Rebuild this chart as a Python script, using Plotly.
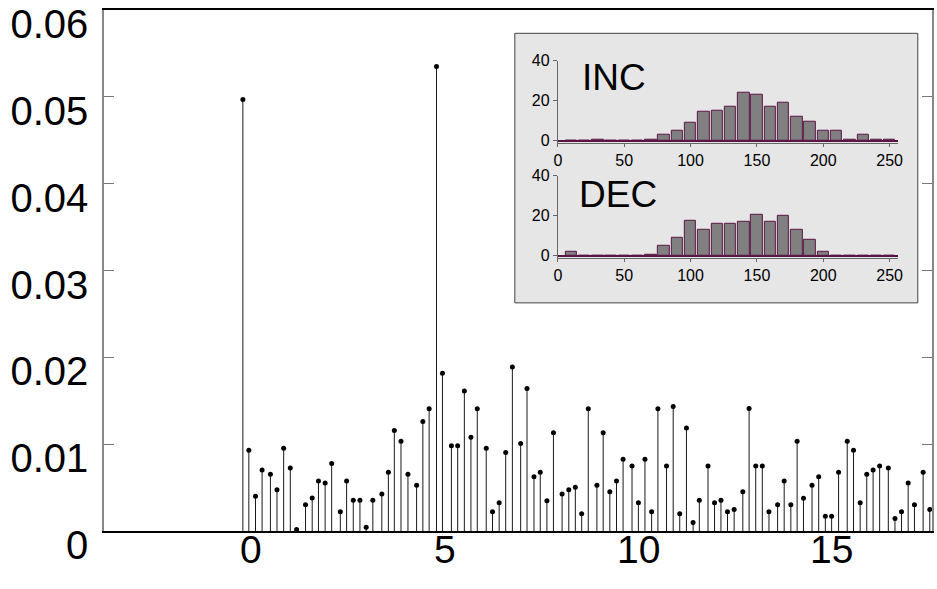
import plotly.graph_objects as go

# ---- main stem data ----
stem_x = [0.000, 0.154, 0.326, 0.496, 0.711, 0.881, 1.053, 1.225, 1.387, 1.618,
          1.790, 1.952, 2.124, 2.293, 2.517, 2.679, 2.851, 3.023, 3.184, 3.356,
          3.588, 3.757, 3.911, 4.083, 4.263, 4.486, 4.648, 4.810, 5.000, 5.154,
          5.385, 5.547, 5.719, 5.889, 6.053, 6.284, 6.446, 6.618, 6.787, 6.959,
          7.173, 7.337, 7.517, 7.679, 7.851, 8.020, 8.243, 8.416, 8.585, 8.749,
          8.919, 9.142, 9.304, 9.476, 9.648, 9.818, 10.049, 10.213, 10.383, 10.555,
          10.717, 10.940, 11.112, 11.281, 11.454, 11.626, 11.787, 12.011, 12.180, 12.345,
          12.514, 12.686, 12.910, 13.072, 13.243, 13.413, 13.585, 13.808, 13.978, 14.150,
          14.312, 14.476, 14.697, 14.869, 15.041, 15.203, 15.383, 15.606, 15.768, 15.940,
          16.110, 16.274, 16.443, 16.667, 16.839, 17.008, 17.180, 17.342, 17.566, 17.738]
stem_y = [0.0497, 0.00931, 0.00399, 0.00703, 0.00653, 0.00476, 0.00954, 0.00726, 0.00017, 0.00303,
          0.00380, 0.00576, 0.00553, 0.00776, 0.00222, 0.00576, 0.00353, 0.00353, 0.00044, 0.00353,
          0.00426, 0.00676, 0.01158, 0.01035, 0.00653, 0.00526, 0.01262, 0.01408, 0.0535, 0.01817,
          0.00981, 0.00981, 0.01613, 0.01081, 0.01408, 0.00954, 0.00222, 0.00326, 0.00904, 0.01890,
          0.01008, 0.01640, 0.00626, 0.00676, 0.00349, 0.01131, 0.00426, 0.00476, 0.00503, 0.00198,
          0.01408, 0.00526, 0.01131, 0.00453, 0.00576, 0.00827, 0.00750, 0.00326, 0.00827, 0.00222,
          0.01408, 0.00750, 0.01435, 0.00198, 0.01185, 0.00098, 0.00353, 0.00750, 0.00326, 0.00353,
          0.00222, 0.00249, 0.00453, 0.01412, 0.00750, 0.00750, 0.00222, 0.00303, 0.00576, 0.00303,
          0.01035, 0.00376, 0.00526, 0.00626, 0.00171, 0.00171, 0.00676, 0.01035, 0.00931, 0.00326,
          0.00653, 0.00703, 0.00750, 0.00726, 0.00145, 0.00222, 0.00553, 0.00303, 0.00676, 0.00249]

main_xticks = [0, 5, 10, 15]
main_xticktext = ["0", "5", "10", "15"]
main_yticks = [0, 0.01, 0.02, 0.03, 0.04, 0.05, 0.06]
main_yticktext = ["0", "0.01", "0.02", "0.03", "0.04", "0.05", "0.06"]

# ---- inset histograms ----
hist_bins = [10, 20, 30, 40, 50, 60, 70, 80, 90, 100, 110, 120, 130, 140, 150, 160, 170,
             180, 190, 200, 210, 220, 230, 240, 250]
inc_counts = [0, 0, 0.7, 0, 0, 0, 0.7, 2.8, 5.2, 8.8, 14.3, 15.0, 17.2, 23.8, 23.2, 17.2, 19.2,
              11.8, 9.7, 5.2, 5.2, 0.7, 2.8, 0.7, 0.7]
dec_counts = [1.8, 0, 0, 0, 0, 0, 0.7, 5.0, 8.8, 17.7, 13.2, 16.2, 16.2, 16.8, 20.7, 16.8, 20.0,
              13.2, 8.0, 1.8, 0, 0, 0, 0, 0]
hist_xticks = [0, 50, 100, 150, 200, 250]
hist_yticks = [0, 20, 40]
inset_labels = ["INC", "DEC"]

W, H = 937, 589
L, R, T, B = 104, 937, 10, 530.7


def px(xp):
    return (xp - L) / (R - L)


def py(yp):
    return (B - yp) / (B - T)


FONT = "Liberation Sans, Arial, Helvetica, sans-serif"

fig = go.Figure()

# stems built from the data arrays
sx, sy = [], []
for xv, yv in zip(stem_x, stem_y):
    sx += [xv, xv, None]
    sy += [0, yv, None]
fig.add_trace(go.Scatter(x=sx, y=sy, mode="lines", line=dict(color="#1a1a1a", width=1),
                         hoverinfo="skip", showlegend=False, xaxis="x", yaxis="y"))
fig.add_trace(go.Scatter(x=stem_x, y=stem_y, mode="markers",
                         marker=dict(color="black", size=5), showlegend=False,
                         xaxis="x", yaxis="y"))

BAR_FILL = "#808080"
BAR_LINE = "#5a1444"
fig.add_trace(go.Bar(x=hist_bins, y=inc_counts, width=8.6, marker=dict(color=BAR_FILL,
                     line=dict(color=BAR_LINE, width=1)), showlegend=False,
                     xaxis="x2", yaxis="y2"))
fig.add_trace(go.Bar(x=hist_bins, y=dec_counts, width=8.6, marker=dict(color=BAR_FILL,
                     line=dict(color=BAR_LINE, width=1)), showlegend=False,
                     xaxis="x3", yaxis="y3"))

# inset domains
ix0, ix1 = px(560.6), px(902.4)
inc_y = [py(142.7), py(60.7)]
dec_y = [py(257.7), py(175.7)]

hist_x_axis = dict(range=[0, 256], showline=True, linecolor="#666666", linewidth=1,
                   ticks="outside", ticklen=3, tickcolor="#666666", tickvals=hist_xticks,
                   tickfont=dict(size=16, family=FONT, color="black"), showgrid=False,
                   zeroline=False, fixedrange=True)
hist_y_axis = dict(range=[-1, 40], showline=True, linecolor="#666666", linewidth=1,
                   ticks="outside", ticklen=4, tickcolor="#666666", tickvals=hist_yticks,
                   tickfont=dict(size=16, family=FONT, color="black"), showgrid=False,
                   zeroline=True, zerolinecolor=BAR_LINE, zerolinewidth=1.5, fixedrange=True)

annotations = [
    dict(text=inset_labels[0], xref="paper", yref="paper", x=px(583), y=py(77),
         xanchor="left", yanchor="middle", showarrow=False,
         font=dict(size=37, family=FONT, color="black")),
    dict(text=inset_labels[1], xref="paper", yref="paper", x=px(580), y=py(194),
         xanchor="left", yanchor="middle", showarrow=False,
         font=dict(size=37, family=FONT, color="black")),
]
# main x tick labels, placed at the axis values
for xv, txt in zip(main_xticks, main_xticktext):
    annotations.append(dict(text=txt, xref="x", yref="paper", x=xv, y=py(549),
                            xanchor="center", yanchor="middle", xshift=8, showarrow=False,
                            font=dict(size=39, family=FONT, color="black")))

fig.update_layout(
    width=W, height=H,
    margin=dict(l=L, r=W - R, t=T, b=H - B, pad=0),
    paper_bgcolor="white", plot_bgcolor="rgba(0,0,0,0)",
    font=dict(family=FONT, color="black"),
    bargap=0,
    xaxis=dict(domain=[0, 1], range=[-3.586, 17.795], showgrid=False, zeroline=False,
               showline=True, linecolor="black", linewidth=2, mirror=True,
               ticks="", tickvals=main_xticks, showticklabels=False),
    yaxis=dict(domain=[0, 1], range=[0, 0.06], showgrid=False, zeroline=False,
               showline=True, linecolor="#888888", linewidth=1.5, mirror="ticks",
               ticks="inside", ticklen=10, tickcolor="#777777", tickwidth=1,
               tickvals=main_yticks, ticktext=main_yticktext, ticklabelshift=14,
               ticklabelstandoff=6,
               tickfont=dict(size=40, family=FONT, color="black")),
    xaxis2=dict(domain=[ix0, ix1], anchor="y2", **hist_x_axis),
    yaxis2=dict(domain=inc_y, anchor="x2", **hist_y_axis),
    xaxis3=dict(domain=[ix0, ix1], anchor="y3", **hist_x_axis),
    yaxis3=dict(domain=dec_y, anchor="x3", **hist_y_axis),
    shapes=[dict(type="rect", xref="paper", yref="paper",
                 x0=px(517.3), x1=px(922.7), y0=py(302.7), y1=py(33.3),
                 fillcolor="#e6e6e6", line=dict(color="#444444", width=1), layer="below")],
    annotations=annotations,
)

fig.write_html("out.html")
